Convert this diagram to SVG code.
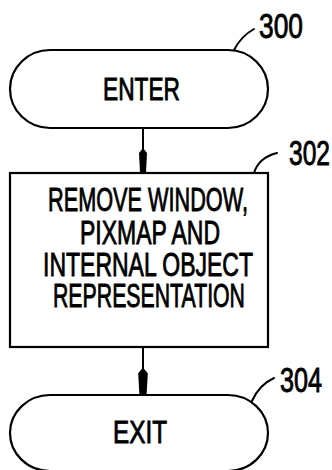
<svg xmlns="http://www.w3.org/2000/svg" xmlns:xlink="http://www.w3.org/1999/xlink" width="332" height="470" viewBox="0 0 332 470">
<style>
.shape{fill:#fff;stroke:#000;stroke-width:2.2}
.line{fill:none;stroke:#000;stroke-width:2}
.lead{fill:none;stroke:#000;stroke-width:2;stroke-linecap:round}
.t{font-family:"Liberation Sans","DejaVu Sans",sans-serif;fill:#000;stroke:#000;stroke-width:0.9}
.enter{font-size:31px}
.main{font-size:34px}
.lab{font-size:35px}
</style>
<defs>
<path id="ah" d="M0,-24 L4,-19 L3,0 L-3,0 L-4,-19 Z" fill="#000"/>
</defs>
<rect width="332" height="470" fill="#fff"/>
<g id="connectors">
<path class="line" d="M143,128 V172"/>
<use xlink:href="#ah" x="143" y="172"/>
<path class="line" d="M143,347 V395"/>
<use xlink:href="#ah" transform="translate(143,395) scale(1.2,1.15)"/>
</g>
<g id="node300">
<rect class="shape" x="10" y="50" width="258" height="78" rx="40" ry="39"/>
<text class="t enter" x="103" y="100" textLength="77" lengthAdjust="spacingAndGlyphs">ENTER</text>
<path class="lead" d="M234,50 C238,42 245,34 254,29"/>
<text class="t lab" x="259" y="38" textLength="44" lengthAdjust="spacingAndGlyphs">300</text>
</g>
<g id="node302">
<rect class="shape" x="10" y="173" width="258" height="174"/>
<text class="t main" x="48" y="211" textLength="200" lengthAdjust="spacingAndGlyphs">REMOVE WINDOW,</text>
<text class="t main" x="80" y="244" textLength="140" lengthAdjust="spacingAndGlyphs">PIXMAP AND</text>
<text class="t main" x="43" y="276" textLength="210" lengthAdjust="spacingAndGlyphs">INTERNAL OBJECT</text>
<text class="t main" x="53" y="307" textLength="192" lengthAdjust="spacingAndGlyphs">REPRESENTATION</text>
<path class="lead" d="M254,173 C257,163 265,156 277,153"/>
<text class="t lab" x="289" y="165" textLength="41" lengthAdjust="spacingAndGlyphs">302</text>
</g>
<g id="node304">
<rect class="shape" x="10" y="395" width="258" height="76" rx="40" ry="38"/>
<text class="t enter" x="113" y="443" textLength="54" lengthAdjust="spacingAndGlyphs" font-size="32">EXIT</text>
<path class="lead" d="M252,401 C256,392 263,383 274,378"/>
<text class="t lab" x="280" y="392" textLength="42" lengthAdjust="spacingAndGlyphs">304</text>
</g>
</svg>
